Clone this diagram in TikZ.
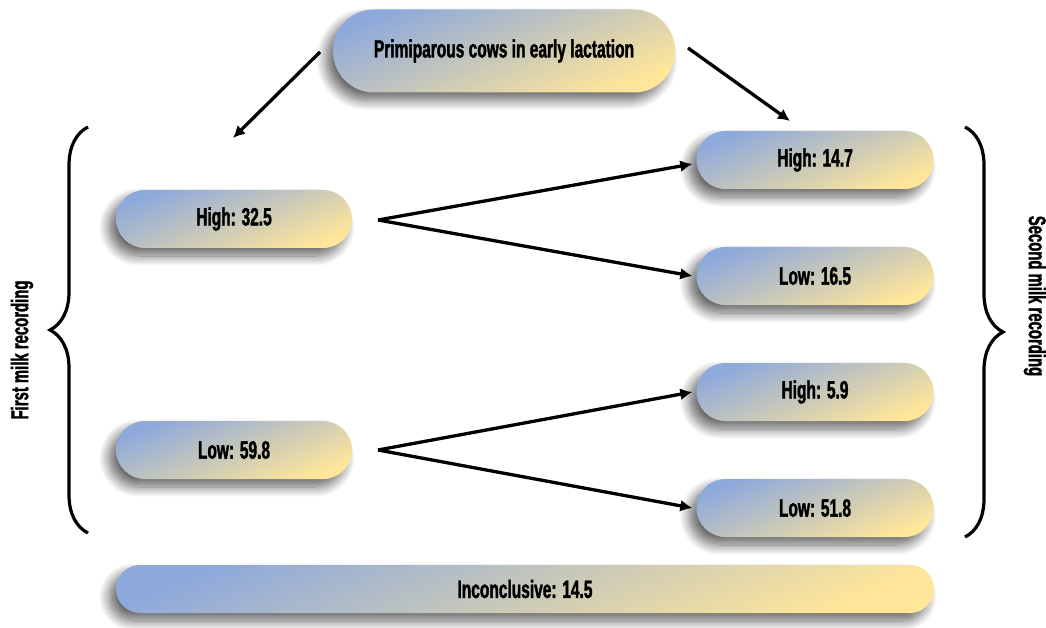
\documentclass[tikz,border=0pt]{standalone}
\usepackage{fontspec}
\newfontfamily\agency[FakeStretch=0.62,FakeBold=1.5]{Liberation Sans Bold}
\usetikzlibrary{shadows.blur,decorations.pathreplacing,arrows.meta}
\definecolor{cblue}{RGB}{142,169,219}
\definecolor{cyel}{RGB}{255,230,153}
\tikzset{
  pill/.style={draw=none, top color=cblue, bottom color=cyel, shading angle=22,
    rounded corners=#1, inner sep=0pt, text=black,
    font=\agency\fontsize{25}{27}\selectfont,
    blur shadow={shadow xshift=-7pt, shadow yshift=-8pt, shadow blur steps=14, shadow opacity=60, shadow blur radius=10pt}},
  pill/.default=29pt,
  arr/.style={line width=3.3pt, -{Latex[length=12pt,width=12pt]}},
  bracestyle/.style={line width=3.2pt, decorate, decoration={brace, amplitude=38pt}},
  lbl/.style={font=\agency\fontsize{24}{26}\selectfont, inner sep=0pt},
}
\begin{document}
\begin{tikzpicture}[x=1pt,y=-1pt]
\useasboundingbox (0,0) rectangle (1046,628);
% nodes
\node[pill=41pt, minimum width=342pt, minimum height=83pt] (top) at (504,51) {Primiparous cows in early lactation};
\node[pill, minimum width=236pt, minimum height=58pt] (h1) at (234,219) {High: 32.5};
\node[pill, minimum width=236pt, minimum height=58pt] (l1) at (234,450) {Low: 59.8};
\node[pill, minimum width=237pt, minimum height=58pt] (hh) at (815,160) {High: 14.7};
\node[pill, minimum width=237pt, minimum height=58pt] (hl) at (815,276) {Low: 16.5};
\node[pill, minimum width=237pt, minimum height=58pt] (lh) at (815,392) {High: 5.9};
\node[pill, minimum width=237pt, minimum height=58pt] (ll) at (815,508) {Low: 51.8};
\node[pill=24pt, minimum width=818pt, minimum height=48pt] (inc) at (525,589) {Inconclusive: 14.5};
% arrows from top
\coordinate (tl) at (320,52);
\coordinate (tle) at (233,138);
\coordinate (tr) at (688,48);
\coordinate (tre) at (790,121);
\draw[arr] (tl) -- (tle);
\draw[arr] (tr) -- (tre);
% forks
\coordinate (f1) at (378,220);
\coordinate (f2) at (378,450);
\draw[arr] (f1) -- ([xshift=-4pt,yshift=-4pt]hh.west);
\draw[arr] (f1) -- ([xshift=-4pt]hl.west);
\draw[arr] (f2) -- ([xshift=-4pt]lh.west);
\draw[arr] (f2) -- ([xshift=-4pt]ll.west);
% braces
\coordinate (lb1) at (88,533);
\coordinate (lb2) at (88,127);
\coordinate (rb1) at (965,127);
\coordinate (rb2) at (965,537);
\draw[bracestyle] (lb1) -- (lb2);
\draw[bracestyle] (rb1) -- (rb2);
\node[lbl, rotate=90] (first) at (22,350) {First milk recording};
\node[lbl, rotate=-90] (second) at (1035,296) {Second milk recording};
\end{tikzpicture}
\end{document}
